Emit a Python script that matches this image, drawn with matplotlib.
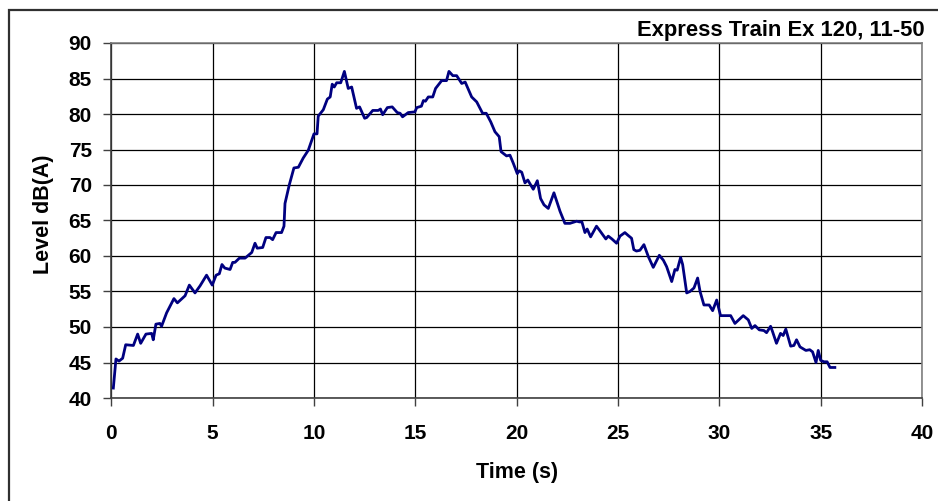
import matplotlib
matplotlib.use("Agg")
import matplotlib.pyplot as plt
from matplotlib.patches import Rectangle

plt.rcParams['font.family'] = ['Liberation Sans', 'DejaVu Sans']

time_s = [0.10, 0.23, 0.38, 0.56, 0.71, 1.09, 1.30, 1.45, 1.71, 1.99, 2.07, 2.20, 2.40, 2.48,
          2.73, 3.09, 3.26, 3.64, 3.85, 4.13, 4.38, 4.70, 4.98, 5.17, 5.33, 5.46, 5.60, 5.86,
          5.99, 6.10, 6.32, 6.60, 6.93, 7.09, 7.20, 7.47, 7.63, 7.83, 7.96, 8.13, 8.40, 8.52,
          8.57, 8.78, 9.01, 9.23, 9.47, 9.72, 10.00, 10.15, 10.21, 10.46, 10.66, 10.80, 10.90,
          11.00, 11.12, 11.32, 11.50, 11.69, 11.86, 12.10, 12.25, 12.50, 12.60, 12.90, 13.17,
          13.28, 13.39, 13.62, 13.86, 14.11, 14.25, 14.37, 14.65, 14.98, 15.07, 15.30, 15.40,
          15.50, 15.64, 15.86, 16.00, 16.30, 16.54, 16.66, 16.85, 17.04, 17.29, 17.46, 17.78,
          18.03, 18.32, 18.50, 18.72, 18.93, 19.14, 19.23, 19.50, 19.67, 19.83, 20.03, 20.13,
          20.25, 20.41, 20.55, 20.82, 21.02, 21.18, 21.35, 21.56, 21.84, 22.14, 22.38, 22.63,
          22.96, 23.10, 23.22, 23.37, 23.48, 23.65, 23.94, 24.07, 24.40, 24.52, 24.70, 24.93,
          25.10, 25.34, 25.50, 25.67, 25.78, 25.91, 26.08, 26.28, 26.50, 26.74, 27.04, 27.24,
          27.40, 27.65, 27.81, 27.92, 28.09, 28.19, 28.39, 28.55, 28.75, 28.93, 29.05, 29.24,
          29.50, 29.67, 29.87, 30.06, 30.33, 30.56, 30.77, 31.18, 31.43, 31.60, 31.76, 31.97,
          32.20, 32.33, 32.53, 32.62, 32.82, 33.02, 33.15, 33.28, 33.52, 33.68, 33.81, 33.98,
          34.27, 34.46, 34.60, 34.77, 34.88, 35.00, 35.16, 35.32, 35.46, 35.70]
level_db = [41.4, 45.5, 45.2, 45.6, 47.5, 47.4, 49.0, 47.7, 49.0, 49.1, 48.2, 50.4, 50.5, 50.1,
            52.0, 54.0, 53.4, 54.4, 55.9, 54.8, 55.8, 57.3, 55.9, 57.3, 57.5, 58.8, 58.3, 58.1,
            59.1, 59.1, 59.7, 59.7, 60.5, 61.8, 61.1, 61.2, 62.6, 62.6, 62.3, 63.3, 63.3, 64.2,
            67.4, 70.0, 72.4, 72.5, 73.8, 74.9, 77.2, 77.2, 79.7, 80.6, 82.1, 82.4, 84.2,
            83.8, 84.4, 84.4, 86.0, 83.6, 83.8, 80.8, 81.0, 79.4, 79.5, 80.5, 80.5,
            80.7, 79.9, 80.9, 81.0, 80.2, 80.1, 79.6, 80.2, 80.3, 80.9, 81.1, 81.9,
            81.8, 82.4, 82.4, 83.6, 84.7, 84.7, 86.0, 85.4, 85.4, 84.3, 84.5, 82.4,
            81.7, 80.1, 80.1, 78.9, 77.5, 76.8, 74.7, 74.1, 74.2, 73.1, 71.6, 72.0,
            71.8, 70.3, 70.7, 69.4, 70.6, 68.1, 67.2, 66.7, 68.9, 66.3, 64.6, 64.6,
            64.9, 64.8, 64.8, 63.3, 63.8, 62.7, 64.2, 63.7, 62.4, 62.8, 62.4, 61.8,
            62.8, 63.3, 62.9, 62.5, 60.9, 60.7, 60.8, 61.6, 59.9, 58.4, 60.1, 59.4,
            58.5, 56.4, 58.1, 58.0, 59.8, 58.8, 54.8, 55.0, 55.5, 56.9, 55.0, 53.1,
            53.1, 52.3, 53.8, 51.6, 51.6, 51.6, 50.5, 51.6, 51.0, 49.8, 50.2, 49.6,
            49.5, 49.2, 50.1, 49.4, 47.7, 49.1, 48.8, 49.7, 47.3, 47.4, 48.2, 47.2,
            46.7, 46.8, 46.5, 45.0, 46.7, 45.3, 45.1, 45.1, 44.3, 44.3]

x_ticks = [0, 5, 10, 15, 20, 25, 30, 35, 40]
y_ticks = [40, 45, 50, 55, 60, 65, 70, 75, 80, 85, 90]
title_text = "Express Train Ex 120, 11-50"
x_label = "Time (s)"
y_label = "Level dB(A)"

fig = plt.figure(figsize=(9.38, 5.01), dpi=100)
W, H = 938, 501
ax = fig.add_axes([111.3 / W, 1 - 398 / H, (922 - 111.3) / W, (398 - 43) / H])

ax.plot(time_s, level_db, color='#000080', lw=2.0, solid_joinstyle='round')
ax.set_xlim(0, 40)
ax.set_ylim(40, 90)
ax.set_xticks(x_ticks)
ax.set_yticks(y_ticks)
ax.grid(True, color='black', lw=0.9)
ax.set_axisbelow(True)
for s in ['top', 'right']:
    ax.spines[s].set_color('#808080')
    ax.spines[s].set_linewidth(1.2)
for s in ['left', 'bottom']:
    ax.spines[s].set_color('#404040')
    ax.spines[s].set_linewidth(1.2)
ax.tick_params(direction='out', length=6, width=1, color='#404040', labelsize=15)
ax.tick_params(axis='y', pad=8)
ax.tick_params(axis='x', pad=13)
for lab in ax.get_xticklabels() + ax.get_yticklabels():
    lab.set_fontweight('bold')

fig.text(517 / W, 1 - 472.5 / H, x_label, ha='center', va='center', fontsize=15.5,
         fontweight='bold')
fig.text(43 / W, 1 - 214 / H, y_label, ha='center', va='center', fontsize=15.5,
         fontweight='bold', rotation=90)
fig.text(925 / W, 1 - 36 / H, title_text, ha='right', va='baseline', fontsize=15.8,
         fontweight='bold')

fig.patches.append(Rectangle((9 / W, -0.1), 1.2, 1 - 10 / H + 0.1, transform=fig.transFigure,
                             fill=False, edgecolor='#303030', lw=1.6))

fig.savefig('out.png', dpi=100)
